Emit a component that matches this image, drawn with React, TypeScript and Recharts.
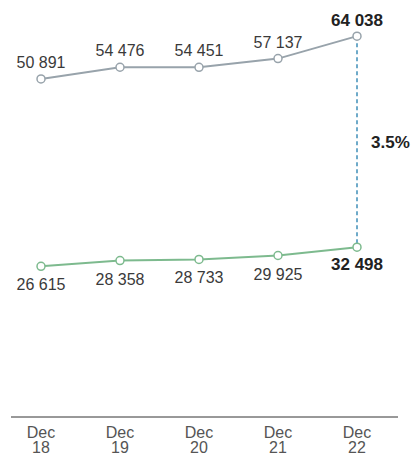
import React from "react";
import { LineChart, Line, XAxis, YAxis, ReferenceLine, LabelList } from "recharts";

const categories = ["Dec 18", "Dec 19", "Dec 20", "Dec 21", "Dec 22"];
const topSeries = [50891, 54476, 54451, 57137, 64038];
const bottomSeries = [26615, 28358, 28733, 29925, 32498];
const growthLabel = "3.5%";

const TOP_DOMAIN: [number, number] = [-53000, 69000];
const BOTTOM_DOMAIN: [number, number] = [-19700, 102300];

const data = categories.map((c, i) => ({ cat: c, top: topSeries[i], bottom: bottomSeries[i] }));

const FONT = '"Liberation Sans", Arial, Helvetica, sans-serif';
const fmt = (v: number) => String(v).replace(/\B(?=(\d{3})+(?!\d))/g, " ");
const lastIdx = categories.length - 1;

const TopLabel = (props: any) => {
  const { x, y, value, index } = props;
  const bold = index === lastIdx;
  return (
    <text x={x} y={y - (bold ? 10 : 11)} textAnchor="middle" fontFamily={FONT}
      fontSize={bold ? 17 : 16} fontWeight={bold ? 700 : 400} fill={bold ? "#222" : "#3a3a3a"}>
      {fmt(value)}
    </text>
  );
};

const BottomLabel = (props: any) => {
  const { x, y, value, index } = props;
  const bold = index === lastIdx;
  return (
    <text x={x} y={y + (bold ? 23 : 24)} textAnchor="middle" fontFamily={FONT}
      fontSize={bold ? 17 : 16} fontWeight={bold ? 700 : 400} fill={bold ? "#222" : "#3a3a3a"}>
      {fmt(value)}
    </text>
  );
};

const Tick = (props: any) => {
  const { x, y, payload } = props;
  const [a, b] = String(payload.value).split(" ");
  return (
    <text x={x} textAnchor="middle" fontFamily={FONT} fontSize={16} fill="#555">
      <tspan x={x} y={y + 21}>{a}</tspan>
      <tspan x={x} y={y + 36}>{b}</tspan>
    </text>
  );
};

const lastCat = categories[lastIdx];
const bottomInTopUnits = bottomSeries[lastIdx] + (TOP_DOMAIN[0] - BOTTOM_DOMAIN[0]);

export default function App() {
  return (
    <LineChart width={411} height={449} data={data} margin={{ top: 12, right: 21, bottom: 0, left: 3 }}>
      <XAxis dataKey="cat" height={40} padding={{ left: 30, right: 41 }} tickLine={false}
        tickSize={0} tickMargin={0} axisLine={{ stroke: "#333", strokeWidth: 1 }} tick={<Tick />} interval={0} />
      <YAxis yAxisId="top" hide domain={TOP_DOMAIN} type="number" allowDataOverflow />
      <YAxis yAxisId="bottom" hide domain={BOTTOM_DOMAIN} type="number" allowDataOverflow />
      <ReferenceLine yAxisId="top" segment={[{ x: lastCat, y: topSeries[lastIdx] }, { x: lastCat, y: bottomInTopUnits }]}
        stroke="#3f8fb8" strokeWidth={1.5} strokeDasharray="4 3"
        label={{ value: growthLabel, position: "right", offset: 14, fontFamily: FONT, fontSize: 17, fontWeight: 700, fill: "#222" }} />
      <Line yAxisId="top" dataKey="top" type="linear" stroke="#98a3ab" strokeWidth={2}
        dot={{ r: 4, fill: "#fff", stroke: "#98a3ab", strokeWidth: 1.5 }} isAnimationActive={false}>
        <LabelList dataKey="top" content={<TopLabel />} />
      </Line>
      <Line yAxisId="bottom" dataKey="bottom" type="linear" stroke="#7dba8e" strokeWidth={2}
        dot={{ r: 4, fill: "#fff", stroke: "#7dba8e", strokeWidth: 1.5 }} isAnimationActive={false}>
        <LabelList dataKey="bottom" content={<BottomLabel />} />
      </Line>
    </LineChart>
  );
}
